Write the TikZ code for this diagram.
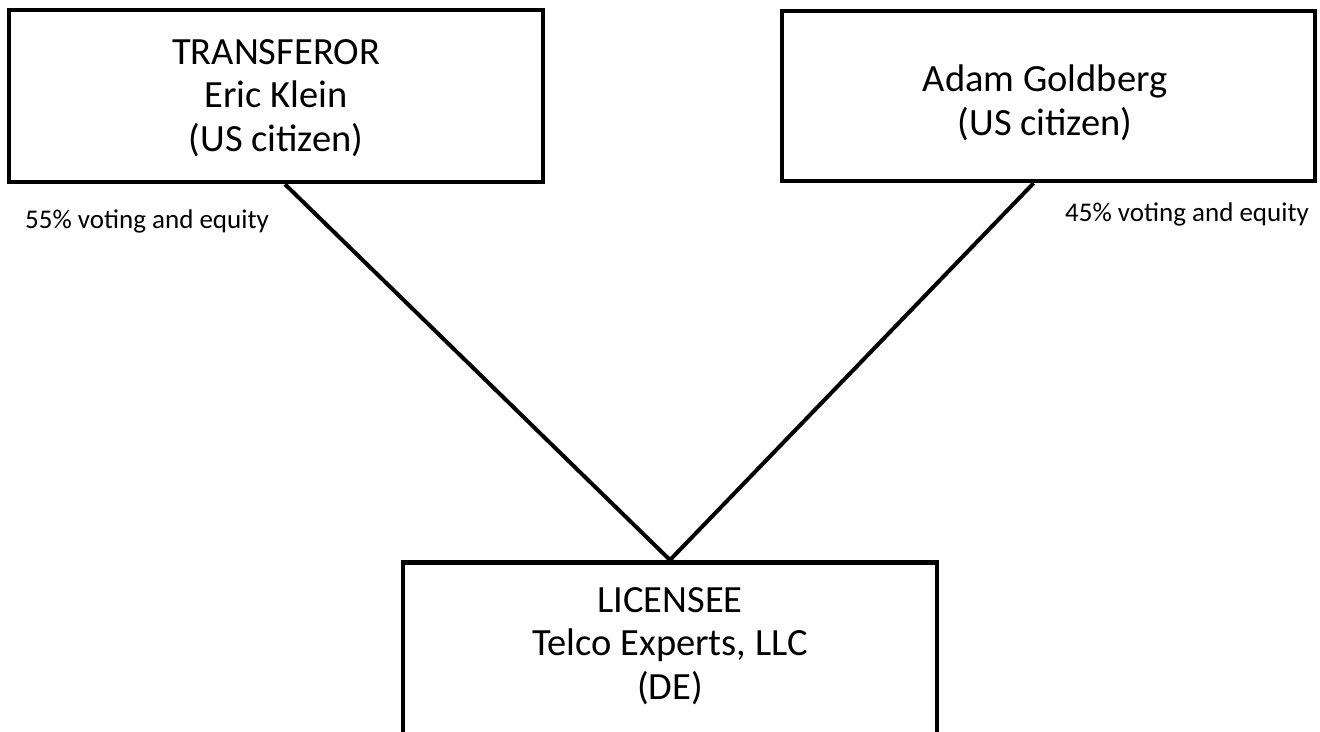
\documentclass[tikz,border=0pt]{standalone}
\usepackage{fontspec}
\setmainfont{Carlito}
\usetikzlibrary{calc}
\tikzset{
  box/.style={draw=black, line width=4.5pt, minimum width=#1, inner sep=0pt},
  txt/.style={align=center, font=\fontsize{38.5}{43.5}\selectfont, inner sep=0pt},
  lbl/.style={font=\fontsize{27}{32}\selectfont, inner sep=0pt},
  conn/.style={line width=4pt}
}
\begin{document}
\begin{tikzpicture}[x=1pt,y=-1pt]
\useasboundingbox (0,0) rectangle (1320,731);
\node[box=534, minimum height=172] (lft) at (276,96) {};
\node[txt] (lftt) at (276,98) {TRANSFEROR\\Eric Klein\\(US citizen)};
\node[box=533, minimum height=170] (rgt) at (1048.5,96) {};
\node[txt] (rgtt) at (1045,103) {Adam Goldberg\\(US citizen)};
\node[box=534, minimum height=200, anchor=north] (lic) at (670,560) {};
\node[txt] (lict) at (670,646) {LICENSEE\\Telco Experts, LLC\\(DE)};
\node[lbl] (l1) at (147,221) {55\% voting and equity};
\node[lbl] (l2) at (1187,214) {45\% voting and equity};
\draw[conn] ($(lft.south)+(9,0)$) -- (lic.north);
\draw[conn] ($(rgt.south)+(-15,0)$) -- (lic.north);
\end{tikzpicture}
\end{document}
